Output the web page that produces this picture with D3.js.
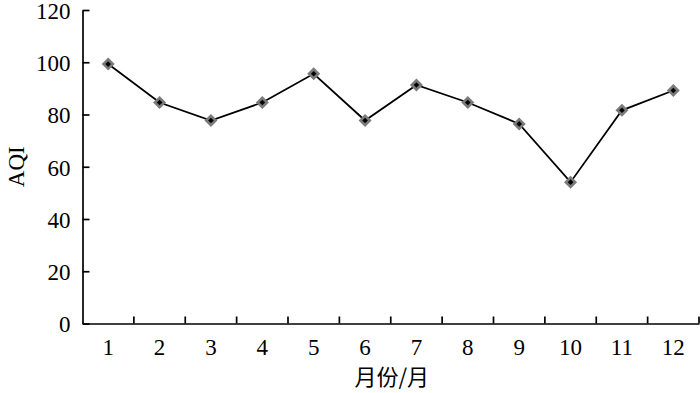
<!DOCTYPE html>
<html><head><meta charset="utf-8">
<script src="https://cdn.jsdelivr.net/npm/d3@7"></script>
<style>body{margin:0;background:#fff}svg{display:block}
.serif{font-family:"Liberation Serif","Times New Roman",Times,serif}</style>
</head><body>
<svg id="c" width="700" height="393"></svg>
<script>
const months = ["1","2","3","4","5","6","7","8","9","10","11","12"];
const aqi = [99.3, 84.6, 77.7, 84.6, 95.6, 77.7, 91.3, 84.6, 76.4, 54.1, 81.6, 89.2];
const yTicks = [0, 20, 40, 60, 80, 100, 120];
const xTitle = "月份/月";
const yTitle = "AQI";

(function () {
const svg = d3.select("#c");
const mLeft = 82.5, mRight = 699, mTop = 10, mBottom = 323.5;
const x = d3.scaleBand().domain(months).range([mLeft, mRight]);
const y = d3.scaleLinear().domain([0, 120]).range([mBottom, mTop]);

// y axis
const ya = svg.append("g").attr("transform", `translate(${mLeft},0)`)
  .call(d3.axisLeft(y).tickValues(yTicks).tickSizeInner(-7).tickSizeOuter(0).tickPadding(12));
ya.attr("font-family", null).attr("font-size", null);
ya.select(".domain").attr("stroke", "#000").attr("stroke-width", 1.7);
ya.selectAll(".tick line").attr("stroke", "#000").attr("stroke-width", 1.7);
ya.selectAll("text").attr("class", "serif").style("font-size", "23px").attr("fill", "#000").attr("dy", "0.36em");

// x axis
const xa = svg.append("g").attr("transform", `translate(0,${mBottom})`)
  .call(d3.axisBottom(x).tickSize(0).tickPadding(15));
xa.attr("font-family", null).attr("font-size", null);
xa.select(".domain").attr("stroke", "#000").attr("stroke-width", 1.7);
xa.selectAll("text").attr("class", "serif").style("font-size", "23px").attr("fill", "#000").attr("dy", "0.71em");
// tick marks between categories (boundaries)
const bounds = months.map(m => x(m) + x.bandwidth());
svg.append("g").selectAll("line").data(bounds).join("line")
  .attr("x1", d => d).attr("x2", d => d)
  .attr("y1", mBottom).attr("y2", mBottom - 7)
  .attr("stroke", "#000").attr("stroke-width", 1.7);

// line
const pts = months.map((m, i) => [x(m) + x.bandwidth() / 2, y(aqi[i])]);
svg.append("path").attr("d", d3.line()(pts))
  .attr("fill", "none").attr("stroke", "#000").attr("stroke-width", 1.8);

// markers
const mk = svg.append("g").selectAll("g").data(pts).join("g")
  .attr("transform", d => `translate(${d[0]},${d[1]})`);
mk.append("path").attr("d", "M0,-6.5L6.5,0L0,6.5L-6.5,0Z").attr("fill", "#7a7a7a");
mk.append("path").attr("d", "M0,-2.8L2.8,0L0,2.8L-2.8,0Z").attr("fill", "#000");

// titles
svg.append("text").attr("x", (mLeft + mRight) / 2 + 1).attr("y", 385)
  .attr("text-anchor", "middle").style("font-family", "'Noto Sans CJK SC', sans-serif")
  .style("font-size", "22px").attr("fill", "#000").text(xTitle);
svg.append("text").attr("class", "serif").attr("transform", `translate(24,${(mTop + mBottom) / 2}) rotate(-90)`)
  .attr("text-anchor", "middle").style("font-size", "23px").attr("fill", "#000").text(yTitle);
})();
</script>
</body></html>
